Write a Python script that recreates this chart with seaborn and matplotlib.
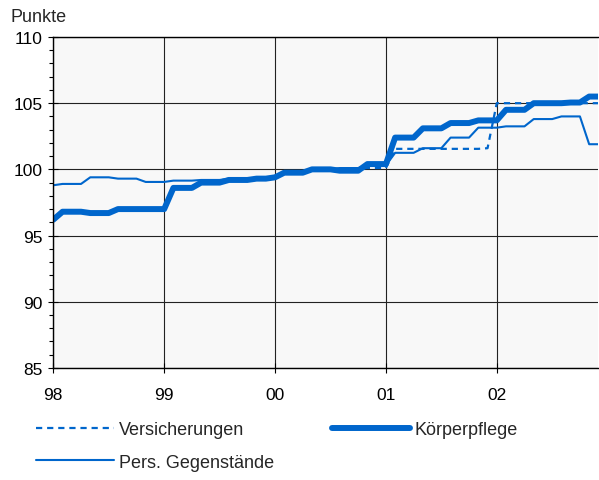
import numpy as np
import pandas as pd
import seaborn as sns
import matplotlib.pyplot as plt

# monthly values Jan 1998 .. Dec 2002
months = list(range(60))
year_ticks = [0, 12, 24, 36, 48]
year_labels = ['98', '99', '00', '01', '02']

koerperpflege = [96.2, 96.8, 96.8, 96.8, 96.7, 96.7, 96.7, 97.0, 97.0, 97.0,
                 97.0, 97.0, 97.0, 98.6, 98.6, 98.6, 99.0, 99.0, 99.0, 99.2,
                 99.2, 99.2, 99.3, 99.3, 99.4, 99.75, 99.75, 99.75, 100.0, 100.0,
                 100.0, 99.9, 99.9, 99.9, 100.4, 100.4, 100.4, 102.4, 102.4, 102.4,
                 103.1, 103.1, 103.1, 103.5, 103.5, 103.5, 103.7, 103.7, 103.7, 104.5,
                 104.5, 104.5, 105.0, 105.0, 105.0, 105.0, 105.05, 105.05, 105.5, 105.5]

pers_gegenstaende = [98.8, 98.9, 98.9, 98.9, 99.4, 99.4, 99.4, 99.3, 99.3, 99.3,
                     99.05, 99.05, 99.05, 99.15, 99.15, 99.15, 99.2, 99.2, 99.2, 99.3,
                     99.3, 99.3, 99.35, 99.35, 99.4, 99.7, 99.7, 99.7, 100.0, 100.0,
                     100.0, 100.1, 100.1, 100.1, 100.3, 100.3, 100.3, 101.25, 101.25, 101.25,
                     101.6, 101.6, 101.6, 102.4, 102.4, 102.4, 103.15, 103.15, 103.15, 103.25,
                     103.25, 103.25, 103.8, 103.8, 103.8, 104.0, 104.0, 104.0, 101.9, 101.9]

versicherungen = [np.nan] * 30 + [100.0, 100.0, 100.0, 100.05, 100.1, 100.1,
                                  100.1, 101.55, 101.55, 101.55, 101.55, 101.55,
                                  101.55, 101.55, 101.55, 101.55, 101.55, 101.6,
                                  105.0, 105.0, 105.0, 105.0, 105.0, 105.0,
                                  105.0, 105.0, 105.0, 105.0, 105.0, 105.0]

blue = '#0066CC'
fs = 13
tick_fs = 12.5

sns.set_theme(style='white')
plt.rcParams['font.family'] = ['Liberation Sans', 'DejaVu Sans']

df = pd.DataFrame({'Monat': months,
                   'Versicherungen': versicherungen,
                   'Pers. Gegenstände': pers_gegenstaende,
                   'Körperpflege': koerperpflege})

fig = plt.figure(figsize=(5.99, 4.81), dpi=100)
ax = fig.add_axes([0.089, 0.233, 0.910, 0.688])
ax.set_facecolor('#F8F8F8')

sns.lineplot(data=df, x='Monat', y='Versicherungen', ax=ax, color=blue,
             linewidth=1.6, label='Versicherungen')
ax.lines[-1].set_dashes([2.8, 2.2])
sns.lineplot(data=df, x='Monat', y='Pers. Gegenstände', ax=ax, color=blue,
             linewidth=1.5, label='Pers. Gegenstände')
sns.lineplot(data=df, x='Monat', y='Körperpflege', ax=ax, color=blue,
             linewidth=4.3, label='Körperpflege')

ax.set_xlim(0, 59)
ax.set_ylim(85, 110)
ax.set_xticks(year_ticks)
ax.set_xticklabels(year_labels)
ax.set_yticks([85, 90, 95, 100, 105, 110])
ax.set_yticks(np.arange(85, 111, 1), minor=True)
ax.set_xlabel('')
ax.set_ylabel('')
ax.grid(True, which='major', color='#222222', linewidth=0.8)
ax.set_axisbelow(True)

for s in ['left', 'top', 'bottom']:
    ax.spines[s].set_color('black')
    ax.spines[s].set_linewidth(1.0)
ax.spines['right'].set_visible(False)

ax.tick_params(axis='y', which='major', direction='inout', length=7, width=0.8,
               labelsize=tick_fs, colors='black', left=True, pad=4)
ax.tick_params(axis='y', which='minor', direction='out', length=3, width=0.8,
               left=True, colors='black')
ax.tick_params(axis='x', which='major', direction='inout', length=7, width=0.8,
               labelsize=tick_fs, colors='black', bottom=True, pad=10)

fig.text(0.018, 0.963, 'Punkte', fontsize=fs, va='center', ha='left')

handles, labels = ax.get_legend_handles_labels()
ax.get_legend().remove()
order = [labels.index('Versicherungen'), labels.index('Pers. Gegenstände'),
         labels.index('Körperpflege')]
fig.legend([handles[i] for i in order], [labels[i] for i in order],
           loc='upper left', bbox_to_anchor=(0.060, 0.122), ncol=2,
           frameon=False, fontsize=fs, handlelength=4.35, handletextpad=0.25,
           columnspacing=3.2, labelspacing=0.85, borderpad=0, borderaxespad=0)

fig.savefig('out.png', dpi=100, facecolor='white')
